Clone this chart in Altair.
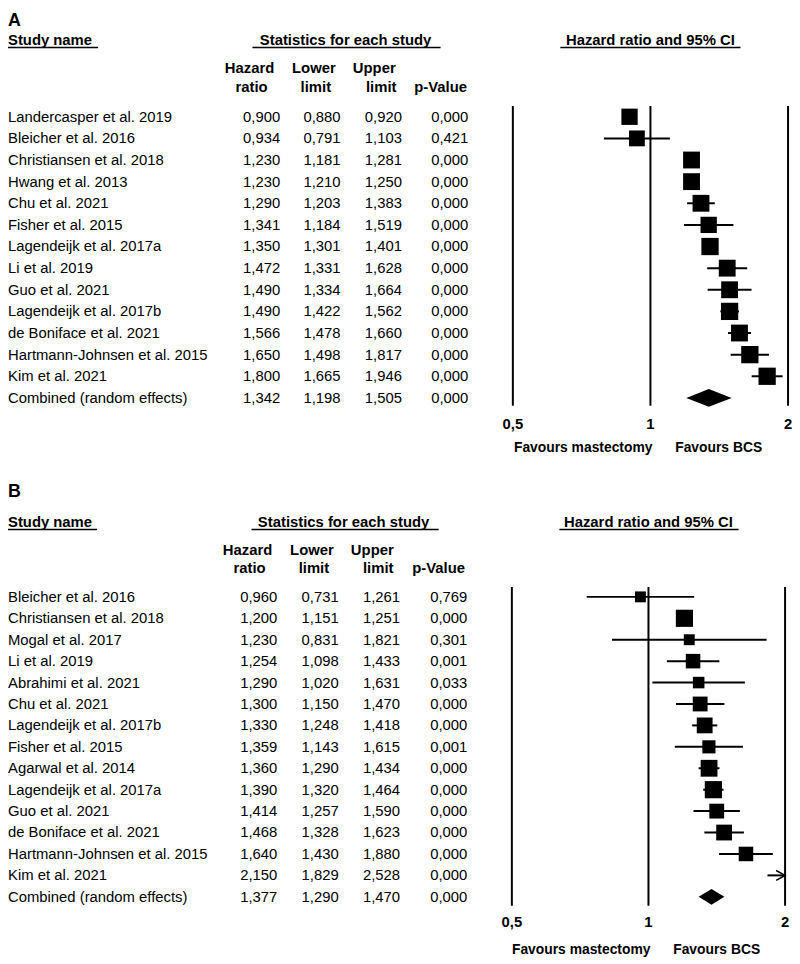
import altair as alt
import pandas as pd

FONT = "Liberation Sans, Arial, sans-serif"

# ---------------- Panel A data ----------------
a_studies = [
    "Landercasper et al. 2019", "Bleicher et al. 2016", "Christiansen et al. 2018",
    "Hwang et al. 2013", "Chu et al. 2021", "Fisher et al. 2015",
    "Lagendeijk et al. 2017a", "Li et al. 2019", "Guo et al. 2021",
    "Lagendeijk et al. 2017b", "de Boniface et al. 2021",
    "Hartmann-Johnsen et al. 2015", "Kim et al. 2021",
]
a_hr = [0.900, 0.934, 1.230, 1.230, 1.290, 1.341, 1.350, 1.472, 1.490, 1.490, 1.566, 1.650, 1.800]
a_lower = [0.880, 0.791, 1.181, 1.210, 1.203, 1.184, 1.301, 1.331, 1.334, 1.422, 1.478, 1.498, 1.665]
a_upper = [0.920, 1.103, 1.281, 1.250, 1.383, 1.519, 1.401, 1.628, 1.664, 1.562, 1.660, 1.817, 1.946]
a_p = [0.000, 0.421, 0.000, 0.000, 0.000, 0.000, 0.000, 0.000, 0.000, 0.000, 0.000, 0.000, 0.000]
a_weight = [7.2, 6.8, 7.7, 7.7, 7.7, 7.2, 8.1, 7.7, 7.7, 8.1, 7.7, 8.1, 8.1]  # relative weight (%)
a_combined = [1.342, 1.198, 1.505, 0.000]

# ---------------- Panel B data ----------------
b_studies = [
    "Bleicher et al. 2016", "Christiansen et al. 2018", "Mogal et al. 2017",
    "Li et al. 2019", "Abrahimi et al. 2021", "Chu et al. 2021",
    "Lagendeijk et al. 2017b", "Fisher et al. 2015", "Agarwal et al. 2014",
    "Lagendeijk et al. 2017a", "Guo et al. 2021", "de Boniface et al. 2021",
    "Hartmann-Johnsen et al. 2015", "Kim et al. 2021",
]
b_hr = [0.960, 1.200, 1.230, 1.254, 1.290, 1.300, 1.330, 1.359, 1.360, 1.390, 1.414, 1.468, 1.640, 2.150]
b_lower = [0.731, 1.151, 0.831, 1.098, 1.020, 1.150, 1.248, 1.143, 1.290, 1.320, 1.257, 1.328, 1.430, 1.829]
b_upper = [1.261, 1.251, 1.821, 1.433, 1.631, 1.470, 1.418, 1.615, 1.434, 1.464, 1.590, 1.623, 1.880, 2.528]
b_p = [0.769, 0.000, 0.301, 0.001, 0.033, 0.000, 0.000, 0.001, 0.000, 0.000, 0.000, 0.000, 0.000, 0.000]
b_weight = [4.0, 9.9, 4.0, 7.1, 4.5, 7.4, 8.4, 5.8, 9.5, 9.9, 7.4, 8.4, 7.1, 6.5]  # relative weight (%)
b_combined = [1.377, 1.290, 1.470, 0.000]

ticks = [0.5, 1, 2]
tick_labels = ["0,5", "1", "2"]

col_headers = [("Hazard", "ratio"), ("Lower", "limit"), ("Upper", "limit"), ("", "p-Value")]


def fmt(v):
    return f"{v:.3f}".replace(".", ",")


dummy = pd.DataFrame({"d": [0]})


def label(text, x, y, size=15, bold=True, align="center", baseline="middle"):
    return alt.Chart(dummy).mark_text(
        text=text, font=FONT, fontSize=size, fontWeight="bold" if bold else "normal",
        align=align, baseline=baseline, color="black",
    ).encode(x=alt.value(x), y=alt.value(y))


def hline(x1, x2, y, w=1.5):
    return alt.Chart(dummy).mark_rule(color="black", strokeWidth=w).encode(
        x=alt.value(x1), x2=alt.value(x2), y=alt.value(y))


def panel(letter, studies, hr, lower, upper, p, weight, combined, g):
    n = len(studies)
    rows = pd.DataFrame({
        "row": list(range(n)) + [n],
        "name": studies + ["Combined (random effects)"],
        "hr": hr + [combined[0]],
        "lower": lower + [combined[1]],
        "upper": upper + [combined[2]],
        "p": p + [combined[3]],
        "weight": weight + [0],
        "kind": ["study"] * n + ["combined"],
    })
    rows["hr_s"] = rows["hr"].map(fmt)
    rows["lower_s"] = rows["lower"].map(fmt)
    rows["upper_s"] = rows["upper"].map(fmt)
    rows["p_s"] = rows["p"].map(fmt)

    ys = alt.Scale(domain=[0, n], range=g["rows"])
    xs = alt.Scale(type="log", domain=[0.5, 2], range=g["xr"], clamp=True)
    Y = alt.Y("row:Q", scale=ys, axis=None)

    layers = []
    # headers
    layers.append(label(letter, 0, g["letter_y"], size=18, align="left", baseline="alphabetic"))
    layers.append(label("Study name", 0, g["h1"], align="left"))
    layers.append(hline(0, g["sn_ul"], g["ul"]))
    layers.append(label("Statistics for each study", g["stat_c"], g["h1"]))
    layers.append(hline(g["stat_ul"][0], g["stat_ul"][1], g["ul"]))
    layers.append(label("Hazard ratio and 95% CI", g["hrci_c"], g["h1"]))
    layers.append(hline(g["hrci_ul"][0], g["hrci_ul"][1], g["ul"]))
    for (top, bot), (xt, xb) in zip(col_headers, g["colhead_x"]):
        if top:
            layers.append(label(top, xt, g["h2"]))
        layers.append(label(bot, xb, g["h3"]))

    # table text
    base = alt.Chart(rows)
    layers.append(base.mark_text(font=FONT, fontSize=15, align="left", baseline="middle", color="black").encode(
        x=alt.value(0), y=Y, text="name:N"))
    for field, xv in zip(["hr_s", "lower_s", "upper_s", "p_s"], g["cols"]):
        layers.append(base.mark_text(font=FONT, fontSize=15, align="right", baseline="middle", color="black").encode(
            x=alt.value(xv), y=Y, text=f"{field}:N"))

    # reference lines
    tick_df = pd.DataFrame({"t": ticks, "lab": tick_labels})
    tb = alt.Chart(tick_df)
    layers.append(tb.mark_rule(color="black", strokeWidth=2).encode(
        x=alt.X("t:Q", scale=xs, axis=None), y=alt.value(g["vl"][0]), y2=alt.value(g["vl"][1])))
    layers.append(tb.mark_text(font=FONT, fontSize=15, fontWeight="bold", baseline="middle", color="black").encode(
        x=alt.X("t:Q", scale=xs, axis=None), y=alt.value(g["tick_y"]), text="lab:N"))
    layers.append(alt.Chart(dummy).mark_text(text="Favours mastectomy", font=FONT, fontSize=14, fontWeight="bold",
                                             align="right", baseline="middle", dx=2, color="black").encode(
        x=alt.X("v:Q", scale=xs, axis=None), y=alt.value(g["fav_y"])).transform_calculate(v="1"))
    layers.append(alt.Chart(dummy).mark_text(text="Favours BCS", font=FONT, fontSize=14, fontWeight="bold",
                                             align="left", baseline="middle", dx=25, color="black").encode(
        x=alt.X("v:Q", scale=xs, axis=None), y=alt.value(g["fav_y"])).transform_calculate(v="1"))

    studies_only = base.transform_filter(alt.datum.kind == "study")
    # CI lines
    layers.append(studies_only.mark_rule(color="black", strokeWidth=2).encode(
        x=alt.X("lower:Q", scale=xs, axis=None), x2="upper:Q", y=Y))
    # squares
    layers.append(studies_only.transform_filter(alt.datum.hr <= 2).mark_square(
        filled=True, color="black", opacity=1).encode(
        x=alt.X("hr:Q", scale=xs, axis=None), y=Y,
        size=alt.Size("weight:Q", scale=alt.Scale(domain=[0, 10], range=[0, 10 * g["k"]]), legend=None)))
    # arrows for CIs beyond the axis
    layers.append(studies_only.transform_filter(alt.datum.upper > 2).mark_point(
        shape="M-1,-0.55L0,0L-1,0.55", filled=False, color="black", strokeWidth=1.5, size=324, opacity=1).encode(
        x=alt.X("upper:Q", scale=xs, axis=None), y=Y))
    # diamond
    h = g["dh"]
    dia = pd.DataFrame({
        "x": [combined[1], combined[0], combined[2]],
        "y1": [n, n - h, n],
        "y2": [n, n + h, n],
    })
    layers.append(alt.Chart(dia).mark_area(orient="vertical", color="black", opacity=1).encode(
        x=alt.X("x:Q", scale=xs, axis=None),
        y=alt.Y("y1:Q", scale=ys, axis=None), y2="y2:Q"))
    return layers


gA = dict(
    letter_y=13, h1=27, ul=35, sn_ul=91, stat_c=341, stat_ul=(247, 437), hrci_c=649, hrci_ul=(558, 740),
    h2=56, h3=75, colhead_x=[(244, 246), (309, 311), (370, 377), (0, 437)],
    cols=[275, 336, 398, 465], rows=[105, 389], xr=[510, 788], vl=(94, 397),
    tick_y=415, fav_y=440, k=37.6, dh=0.41,
)
gB = dict(
    letter_y=489, h1=514, ul=522, sn_ul=90, stat_c=339, stat_ul=(246, 435), hrci_c=647, hrci_ul=(557, 738),
    h2=543, h3=561, colhead_x=[(242, 244), (307, 309), (368, 374), (0, 435)],
    cols=[272, 334, 396, 464], rows=[590, 893], xr=[509, 785], vl=(580, 902),
    tick_y=919, fav_y=947, k=30.35, dh=0.37,
)

layers = panel("A", a_studies, a_hr, a_lower, a_upper, a_p, a_weight, a_combined, gA) + \
    panel("B", b_studies, b_hr, b_lower, b_upper, b_p, b_weight, b_combined, gB)

chart = alt.layer(*layers).resolve_scale(
    x="independent", y="independent", size="independent"
).properties(
    width=792, height=956, autosize=alt.AutoSizeParams(type="none"), padding=0,
).configure_view(stroke=None)

chart.save("out.html", embed_options={"renderer": "svg", "actions": False})
